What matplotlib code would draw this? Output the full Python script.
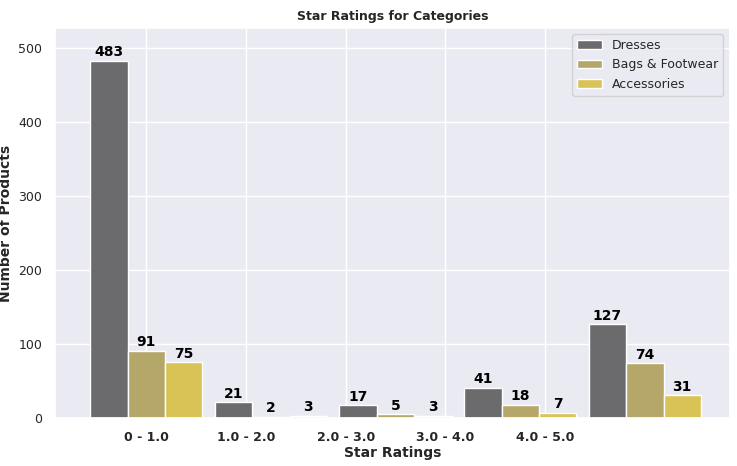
import matplotlib
matplotlib.use("Agg")
import matplotlib.pyplot as plt
import seaborn as sns
import numpy as np

sns.set_theme(style="darkgrid")
plt.rcParams['font.family'] = ['DejaVu Sans']

categories = ["0 - 1.0", "1.0 - 2.0", "2.0 - 3.0", "3.0 - 4.0", "4.0 - 5.0"]
dresses = [483, 21, 17, 41, 127]
bags = [91, 2, 5, 18, 74]
accessories = [75, 3, 3, 7, 31]
series = [("Dresses", dresses, "#6b6b6d"), ("Bags & Footwear", bags, "#b5a66a"), ("Accessories", accessories, "#d9c356")]

fig, ax = plt.subplots(figsize=(7.37, 4.66), dpi=100)
fig.subplots_adjust(left=0.075, right=0.99, top=0.94, bottom=0.103)
x = np.arange(len(categories))
w = 0.3
for k, (name, vals, col) in enumerate(series):
    bars = ax.bar(x + k * w, vals, w, label=name, color=col)
    for b, v in zip(bars, vals):
        ax.text(b.get_x() + b.get_width() / 2, v + 2, str(v), ha="center", va="bottom",
                fontsize=10, fontweight="bold", color="black")
ax.set_xticks(0.3 + 0.8 * x)
ax.set_xticklabels(categories, fontweight="bold", fontsize=9)
ax.set_xlim(-0.43, 4.98)
ax.set_ylim(0, 527)
ax.tick_params(axis="y", labelsize=9)
ax.set_xlabel("Star Ratings", fontweight="bold", fontsize=10, labelpad=1)
ax.set_ylabel("Number of Products", fontweight="bold", fontsize=10)
ax.set_title("Star Ratings for Categories", fontweight="bold", fontsize=9)
ax.legend(loc="upper right", fontsize=9)
fig.savefig("out.png")
